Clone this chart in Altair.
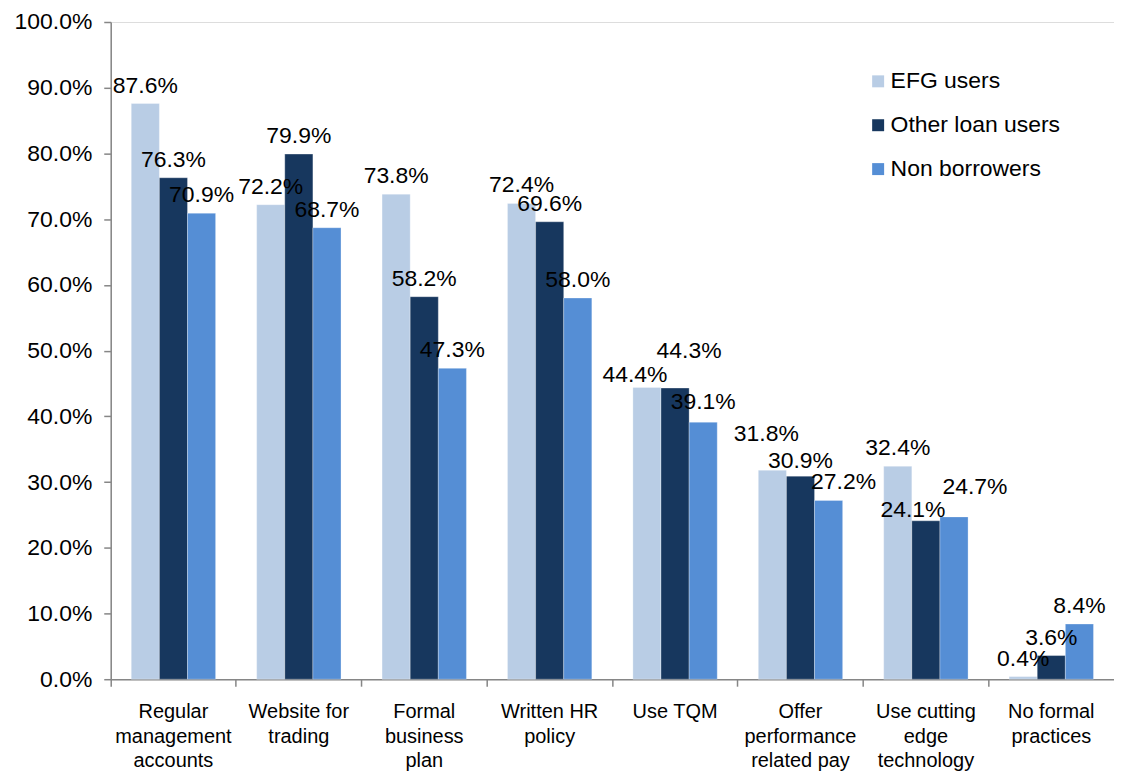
import altair as alt
import pandas as pd

categories = ["Regular|management|accounts", "Website for|trading", "Formal|business|plan",
              "Written HR|policy", "Use TQM", "Offer|performance|related pay",
              "Use cutting|edge|technology", "No formal|practices"]
series = ["EFG users", "Other loan users", "Non borrowers"]
efg_users = [87.6, 72.2, 73.8, 72.4, 44.4, 31.8, 32.4, 0.4]
other_loan_users = [76.3, 79.9, 58.2, 69.6, 44.3, 30.9, 24.1, 3.6]
non_borrowers = [70.9, 68.7, 47.3, 58.0, 39.1, 27.2, 24.7, 8.4]
colors = ["#B9CDE5", "#17375E", "#558ED5"]
y_ticks = [i / 10 for i in range(11)]

# label placement tweaks (pixel nudges, as hand-placed in the original)
label_nudges = {
    ("Use TQM", "EFG users"): (-12, 6),
    ("Use TQM", "Other loan users"): (14, -19),
    ("Use TQM", "Non borrowers"): (0, -2),
    ("Offer|performance|related pay", "EFG users"): (-6, -18),
    ("Offer|performance|related pay", "Other loan users"): (0, 3),
    ("Offer|performance|related pay", "Non borrowers"): (15, 0),
    ("Use cutting|edge|technology", "Other loan users"): (-13, 7),
    ("Use cutting|edge|technology", "Non borrowers"): (21, -12),
}

rows = []
for s, vals in zip(series, [efg_users, other_loan_users, non_borrowers]):
    for c, v in zip(categories, vals):
        rows.append({"cat": c, "series": s, "value": v / 100})
df = pd.DataFrame(rows)

FONT = "Liberation Sans"

x = alt.X("cat:N", sort=categories, title=None,
          scale=alt.Scale(paddingInner=0, paddingOuter=0),
          axis=alt.Axis(labelExpr="split(datum.label, '|')", labelAngle=0,
                        labelFontSize=20, labelFont=FONT, labelColor="#000000",
                        labelLineHeight=25, labelPadding=15, labelBaseline="top",
                        bandPosition=0, tickSize=7, tickColor="#868686",
                        domainColor="#868686", domainWidth=1.5, tickWidth=1.5, grid=False))
xoff = alt.XOffset("series:N", sort=series,
                   scale=alt.Scale(paddingInner=0, paddingOuter=0.73))
y = alt.Y("value:Q", title=None,
          scale=alt.Scale(domain=[0, 1], nice=False),
          axis=alt.Axis(format=".1%", values=y_ticks, labelFontSize=23, labelFont=FONT,
                        labelColor="#000000", tickSize=7, tickColor="#868686", tickWidth=1.5,
                        domainColor="#868686", domainWidth=1.5, grid=False,
                        labelPadding=12))
color = alt.Color("series:N", sort=series,
                  scale=alt.Scale(domain=series, range=colors),
                  legend=alt.Legend(title=None, orient="none", legendX=758, legendY=48,
                                    symbolType="square", symbolSize=144, symbolStrokeWidth=0,
                                    labelFontSize=23, labelFont=FONT, labelColor="#000000",
                                    rowPadding=20, labelOffset=1, labelLimit=400))

bars = alt.Chart(df).mark_bar(stroke="#FFFFFF", strokeWidth=0.5, strokeOpacity=0.6).encode(
    x=x, xOffset=xoff, y=y, color=color)

BASE_DY = -11


def text_layer(data, dx=0, dy=0):
    return alt.Chart(data).mark_text(baseline="alphabetic", dx=dx, dy=BASE_DY + dy,
                                     fontSize=23, font=FONT, color="#000000").encode(
        x=alt.X("cat:N", sort=categories), xOffset=alt.XOffset("series:N", sort=series),
        y="value:Q", text=alt.Text("value:Q", format=".1%"))


is_nudged = df.apply(lambda r: (r["cat"], r["series"]) in label_nudges, axis=1)
layers = [bars, text_layer(df[~is_nudged])]
for (c, s), (ndx, ndy) in label_nudges.items():
    sub = df[(df["cat"] == c) & (df["series"] == s)]
    layers.append(text_layer(sub, ndx, ndy))

chart = alt.layer(*layers).properties(
    width=1006, height=659,
    padding={"left": 5, "top": 2, "right": 0, "bottom": 0}
).configure_view(stroke=None).configure(background="#FFFFFF")

chart.save("out.html", embed_options={"renderer": "svg", "actions": False})
